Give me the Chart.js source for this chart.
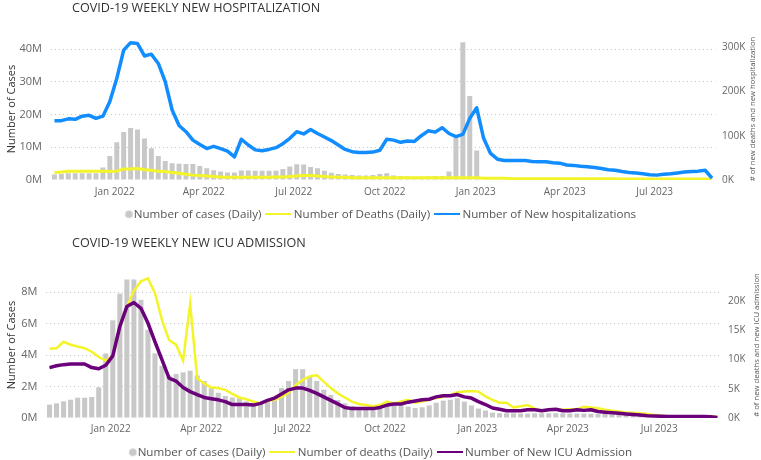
<!DOCTYPE html>
<html>
<head>
<meta charset="utf-8">
<script src="https://cdn.jsdelivr.net/npm/chart.js@4.4.0/dist/chart.umd.min.js"></script>
<style>
body{margin:0;background:#fff;width:761px;height:460px;overflow:hidden;position:relative;font-family:'Open Sans',sans-serif}
.panel{position:absolute;left:0;width:761px;height:230px}
.title{position:absolute;left:72px;font-size:12.6px;line-height:16px;color:#333;white-space:nowrap}
</style>
</head>
<body>
<div class="panel" style="top:0"><canvas id="hospChart"></canvas></div>
<div class="panel" style="top:230px"><canvas id="icuChart"></canvas></div>
<div class="title" style="top:0">COVID-19 WEEKLY NEW HOSPITALIZATION</div>
<div class="title" style="top:235px">COVID-19 WEEKLY NEW ICU ADMISSION</div>
<script>
const FONT="'Open Sans',sans-serif";

// weekly points, first week starts here
const startDate='2021-11-01';
const quarterLabels=['Jan 2022','Apr 2022','Jul 2022','Oct 2022','Jan 2023','Apr 2023','Jul 2023'];
const quarterDates=['2022-01-01','2022-04-01','2022-07-01','2022-10-01','2023-01-01','2023-04-01','2023-07-01'];

// top panel: cases in millions, deaths / hospitalizations in thousands
const hospCases=[1.7,1.9,2.1,2.1,2.1,2.1,2.1,3.8,7.3,11.5,14.7,15.9,15.4,12.7,9.7,7.3,5.8,5.1,5.0,4.9,4.9,4.3,3.6,3.0,2.6,2.3,2.3,2.9,2.9,2.8,2.8,2.8,
2.8,3.4,4.1,4.8,4.7,4.0,3.6,2.8,2.2,1.8,1.7,1.5,1.4,1.4,1.5,1.8,2.1,1.4,1.2,1.1,1.0,1.0,1.1,1.2,1.2,2.6,12.8,42.1,25.7,9.0];
const hospDeaths=[17,18,20,20,20,20,20,20,19,20,25,25,26,23,22,20,19,17,15,13,11,10,9,8,7,6,6,6,6,6,6,6,
7,7,8,9,10,10,9,8,7,6,6,5,5,5,5,5,5,5,5,5,5,5,5,5,5,5,5,5,5,5,4,4,
4,4,3,3,3,3,3,3,3,3,3,3,3,3,3,3,3,3,2,2,2,2,2,2,2,2,2,2,2,2,2,2];
const hospAdmissions=[134,134,138,137,144,146,139,144,177,229,293,310,308,280,284,263,222,158,123,109,90,80,71,76,71,65,52,92,79,68,66,69,
73,82,94,109,104,114,105,97,89,79,69,64,62,62,63,67,92,90,85,88,87,100,111,108,118,105,98,103,139,163,94,60,
47,44,44,44,44,42,41,41,39,38,34,33,31,30,28,26,23,22,19,17,16,14,12,11,13,14,16,18,19,20,22,4];
const hospLeftTicks=[0,10,20,30,40];
const hospRightTicks=[0,100,200,300];

// bottom panel: cases in millions, deaths / ICU admissions in thousands
const icuCases=[0.85,0.93,1.06,1.16,1.29,1.29,1.33,1.95,4.1,6.2,7.9,8.8,8.8,7.5,5.6,4.1,3.3,2.7,2.8,2.9,3.0,2.7,2.35,1.9,1.6,1.4,1.3,1.25,1.05,0.97,0.95,1.0,
1.14,1.9,2.35,3.1,3.1,2.67,2.35,1.8,1.46,1.14,0.93,0.76,0.68,0.68,0.68,0.7,0.83,0.9,0.8,0.72,0.63,0.68,0.8,0.97,1.1,1.16,1.25,1.04,0.8,0.6,0.47,0.34,
0.3,0.3,0.3,0.28,0.28,0.3,0.3,0.3,0.3,0.3,0.28,0.28,0.28,0.27,0.25,0.25,0.22,0.2,0.2,0.18,0.15];
const icuDeaths=[11.8,11.9,13.0,12.5,12.2,11.9,11.3,10.4,9.8,10.5,15.3,19.0,21.7,23.3,23.8,21.3,16.7,13.3,12.5,9.8,19.5,6.8,5.9,5.2,5.1,4.8,4.1,3.5,3.2,2.8,2.5,2.9,
3.1,3.6,4.3,5.6,6.5,7.1,7.3,6.2,5.1,4.2,3.5,2.8,2.4,2.2,2.0,2.2,2.8,2.5,2.8,3.1,2.6,2.8,3.1,3.4,3.6,3.9,4.4,4.5,4.6,4.5,3.7,3.1,
2.6,2.6,1.8,2.0,2.2,1.6,1.25,1.4,1.5,1.4,1.5,1.5,1.9,1.8,1.65,1.4,1.25,1.1,0.9,0.9,0.8,0.7,0.5,0.4,0.3,0.3,0.3,0.3,0.3,0.3,0.3,0.2];
const icuAdmissions=[8.6,8.9,9.1,9.2,9.2,9.2,8.6,8.4,9.0,10.6,15.6,19.0,19.7,18.7,16.2,13.0,9.9,6.8,6.3,5.2,4.5,4.0,3.5,3.3,3.1,2.8,2.3,2.3,2.3,2.2,2.5,3.0,
3.4,4.1,4.8,5.1,5.1,4.7,4.2,3.6,3.0,2.4,1.8,1.6,1.6,1.6,1.6,1.8,2.2,2.4,2.4,2.7,2.9,3.1,3.2,3.6,3.8,3.8,4.0,3.6,3.4,2.8,2.3,1.7,
1.5,1.25,1.25,1.25,1.4,1.4,1.25,1.4,1.5,1.25,1.25,1.4,1.3,1.4,1.1,1.0,0.9,0.8,0.7,0.6,0.5,0.4,0.35,0.3,0.25,0.25,0.25,0.25,0.25,0.25,0.2,0.1];
const icuLeftTicks=[0,2,4,6,8];
const icuRightTicks=[0,5,10,15,20];

const weekPos=d=>(Date.parse(d)-Date.parse(startDate))/(7*864e5);
const toPoints=arr=>arr.map((y,i)=>({x:i,y:y}));

function dotIcon(color){
const c=document.createElement('canvas');
c.width=30;c.height=10;
const g=c.getContext('2d');
g.fillStyle=color;g.beginPath();g.arc(25.5,5,3.8,0,Math.PI*2);g.fill();
return c;
}

function lineIcon(color){
const c=document.createElement('canvas');
c.width=26;c.height=2;
const g=c.getContext('2d');
g.fillStyle=color;g.fillRect(0,0,26,2);
return c;
}

// right axis title reads bottom to top
Chart.register({
id:'sideTitle',
afterDraw(chart,args,opts){
if(!opts.text)return;
const ctx=chart.ctx,a=chart.chartArea;
ctx.save();
ctx.translate(opts.x,(a.top+a.bottom)/2);
ctx.rotate(-Math.PI/2);
ctx.font='7.7px '+FONT;
ctx.fillStyle='#555';
ctx.textAlign='center';
ctx.textBaseline='middle';
ctx.fillText(opts.text,0,0);
ctx.restore();
}
});

function makePanel(id,p){

const icons=[dotIcon('#c8c8c8'),lineIcon(p.deathColor),lineIcon(p.lineColor)];

return new Chart(document.getElementById(id),{
type:'bar',
data:{
datasets:[
{
type:'bar',
label:'Number of cases (Daily)',
data:toPoints(p.cases),
yAxisID:'y',
backgroundColor:'#c8c8c8',
barPercentage:0.9,
categoryPercentage:0.8,
order:3
},
{
type:'line',
label:p.deathLabel,
data:toPoints(p.deaths),
yAxisID:'y1',
borderColor:p.deathColor,
borderWidth:p.deathWidth,
pointRadius:0,
tension:0,
order:2
},
{
type:'line',
label:p.lineLabel,
data:toPoints(p.line),
yAxisID:'y1',
borderColor:p.lineColor,
borderWidth:3.5,
borderJoinStyle:'round',
pointRadius:0,
tension:0,
order:1
}
]
},
options:{
responsive:true,
maintainAspectRatio:false,
animation:false,
layout:{padding:{top:p.padTop,bottom:p.padBottom,left:0,right:16}},
plugins:{
legend:{
position:'bottom',
maxHeight:21,
labels:{
usePointStyle:true,
pointStyleWidth:19,
padding:7.5,
color:'#555',
font:{size:11.6,family:FONT},
generateLabels:chart=>{
const items=Chart.defaults.plugins.legend.labels.generateLabels(chart);
items.sort((a,b)=>a.datasetIndex-b.datasetIndex);
items.forEach(it=>{it.pointStyle=icons[it.datasetIndex];});
return items;
}
}
},
tooltip:{enabled:false},
sideTitle:{text:p.rightTitle,x:p.rightTitleX}
},
scales:{
x:{
type:'linear',
offset:false,
min:-0.5,
max:95.5,
grid:{display:false,drawTicks:false},
border:{display:false},
afterBuildTicks:s=>{s.ticks=quarterDates.map(d=>({value:weekPos(d)}));},
afterFit:s=>{s.height=21;},
ticks:{
padding:p.xPad,
color:'#666',
font:{size:10,family:FONT},
maxRotation:0,
autoSkip:false,
callback:(v,i)=>quarterLabels[i]
}
},
y:{
position:'left',
min:0,
max:p.leftMax,
grid:{color:c=>c.tick.value===0?'rgba(0,0,0,0)':'#c8c8c8',drawTicks:false},
border:{display:false,dash:[1,3]},
afterBuildTicks:s=>{s.ticks=p.leftTicks.map(v=>({value:v}));},
afterFit:s=>{s.width=p.leftWidth;},
title:{display:true,text:'Number of Cases',color:'#333',font:{size:11,family:FONT},padding:{top:5,bottom:0}},
ticks:{autoSkip:false,padding:p.leftPad,color:'#666',font:{size:11,family:FONT},callback:v=>v+'M'}
},
y1:{
position:'right',
min:0,
max:p.rightMax,
grid:{display:false,drawTicks:false},
border:{display:false},
afterBuildTicks:s=>{s.ticks=p.rightTicks.map(v=>({value:v}));},
afterFit:s=>{s.width=p.rightWidth;},
ticks:{autoSkip:false,padding:p.rightPad,color:'#666',font:{size:10,family:FONT},callback:v=>v+'K'}
}
}
}
});

}

makePanel('hospChart',{
cases:hospCases,
deaths:hospDeaths,
line:hospAdmissions,
deathLabel:'Number of Deaths (Daily)',
lineLabel:'Number of New hospitalizations',
deathColor:'#f4f42a',
deathWidth:3,
lineColor:'#118dff',
rightTitle:'# of new deaths and new hospitalization',
rightTitleX:753,
padTop:38,
padBottom:8,
leftMax:43.4,
leftTicks:hospLeftTicks,
leftWidth:51,
leftPad:9,
rightMax:320.5,
rightTicks:hospRightTicks,
rightWidth:29.5,
rightPad:6.5,
xPad:6
});

makePanel('icuChart',{
cases:icuCases,
deaths:icuDeaths,
line:icuAdmissions,
deathLabel:'Number of deaths (Daily)',
lineLabel:'Number of New ICU Admission',
deathColor:'#f4f42a',
deathWidth:2.5,
lineColor:'#6b007b',
rightTitle:'# of new deaths and new ICU admission',
rightTitleX:757,
padTop:42,
padBottom:0,
leftMax:9.27,
leftTicks:icuLeftTicks,
leftWidth:46,
leftPad:8.5,
rightMax:24.9,
rightTicks:icuRightTicks,
rightWidth:24,
rightPad:7,
xPad:5
});
</script>
</body>
</html>
